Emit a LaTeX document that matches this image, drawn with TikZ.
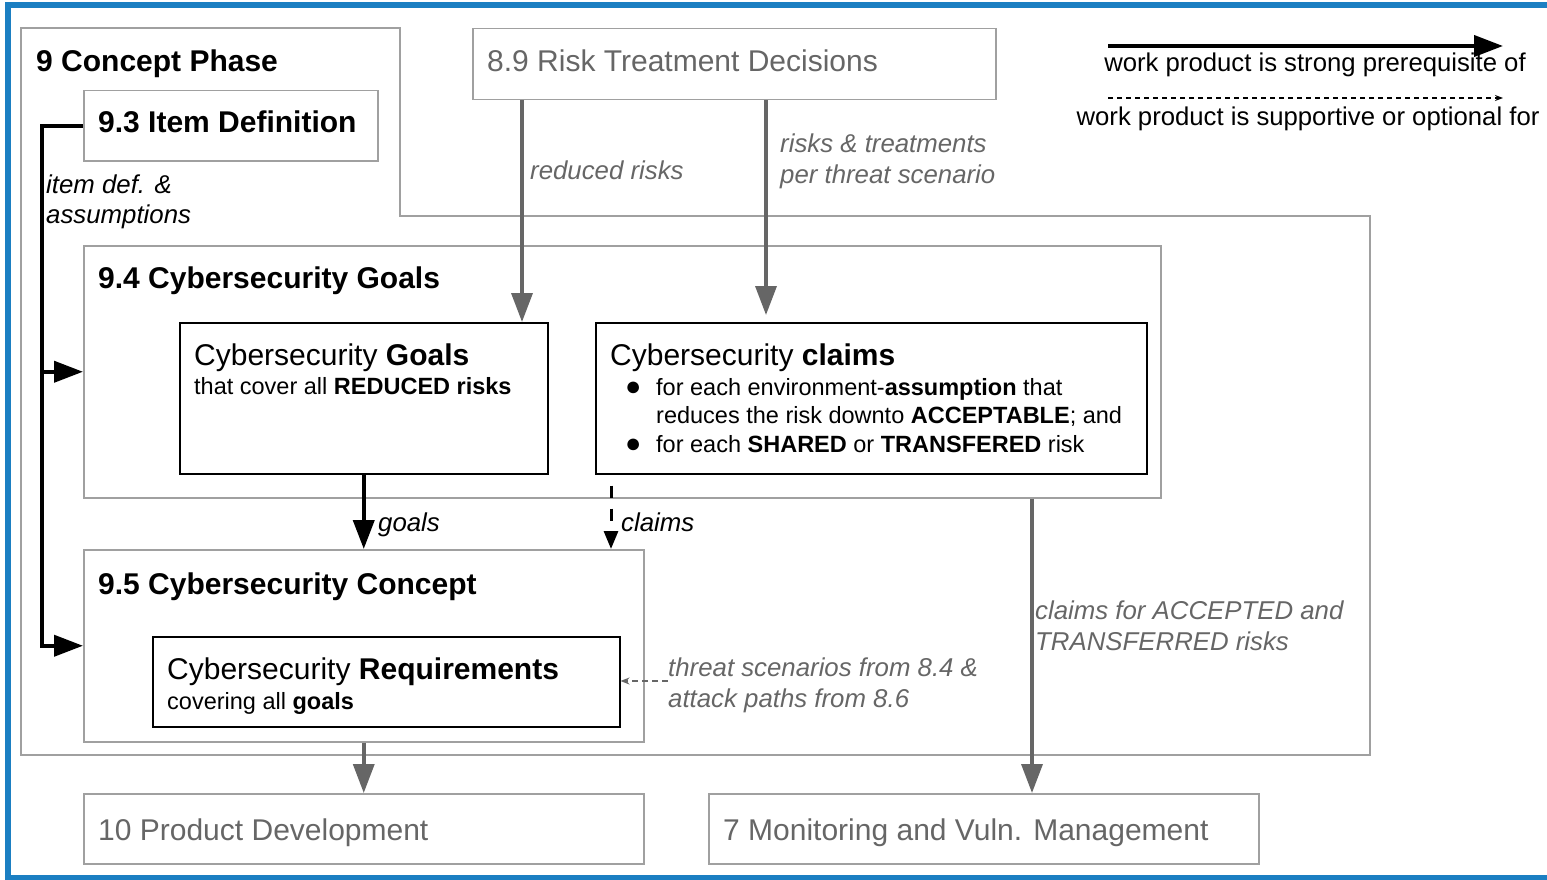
\documentclass[tikz,border=0pt]{standalone}
\usepackage{fontspec}
\setmainfont{Liberation Sans}
\usetikzlibrary{arrows.meta}
\definecolor{frameblue}{HTML}{1B7FC2}
\definecolor{boxgray}{HTML}{A0A0A0}
\definecolor{arrowgray}{HTML}{666666}
\definecolor{textgray}{HTML}{666666}
\newcommand\fsHead{\fontsize{30}{34}\selectfont}
\newcommand\fsBody{\fontsize{23.5}{28.5}\selectfont}
\newcommand\fsLabel{\fontsize{25.8}{31}\selectfont}
\newcommand\fsLegend{\fontsize{25.7}{30}\selectfont}
\newcommand\bigbullet{{\fontsize{27}{28.5}\selectfont ●}}
\begin{document}
\begin{tikzpicture}[x=1pt,y=-1pt,
  gbox/.style={draw=boxgray, line width=1.5pt, anchor=north west, inner sep=0pt},
  kbox/.style={draw=black, line width=1.5pt, anchor=north west, inner sep=0pt},
  txt/.style={anchor=base west, inner sep=0pt},
  bigtip/.style={-{Triangle[length=29pt,width=21pt]}},
  garrow/.style={draw=arrowgray, line width=3.5pt, bigtip, arrowgray},
  karrow/.style={draw=black, line width=4pt, bigtip},
  kdash/.style={draw=black, line width=3pt, dash pattern=on 12pt off 11pt, dash phase=12pt,
                -{Triangle[length=18pt,width=14pt]}},
  gthin/.style={draw=arrowgray, line width=1.5pt, dash pattern=on 6pt off 4pt,
                -{Stealth[length=9pt,width=7pt]}, arrowgray},
  kthin/.style={draw=black, line width=1.3pt, dash pattern=on 5pt off 4pt,
                -{Stealth[length=8pt,width=6pt]}},
  lbl/.style={txt, font=\fsLabel\itshape},
]
\useasboundingbox (0,0) rectangle (1547,880);

% page frame
\draw[frameblue, line width=6pt] (1550,5.5) -- (8,5.5) -- (8,878) -- (1550,878);

% concept phase outline
\draw[boxgray, line width=1.5pt] (21,28) -- (400,28) -- (400,216) -- (1370,216)
  -- (1370,755) -- (21,755) -- cycle;
\node[txt, font=\fsHead\bfseries] (tphase) at (36,72) {9 Concept Phase};

% boxes
\node[gbox, minimum width=294pt, minimum height=70pt] (b93) at (83,90) {};
\node[gbox, minimum width=523pt, minimum height=71pt] (b89) at (472,28) {};
\node[gbox, minimum width=1077pt, minimum height=252pt] (b94) at (83,245) {};
\node[kbox, minimum width=368pt, minimum height=151pt] (bgoal) at (179,322) {};
\node[kbox, minimum width=551pt, minimum height=151pt] (bclaim) at (595,322) {};
\node[gbox, minimum width=560pt, minimum height=192pt] (b95) at (83,549) {};
\node[kbox, minimum width=467pt, minimum height=90pt] (breq) at (152,636) {};
\node[gbox, minimum width=560pt, minimum height=70pt] (b10) at (83,793) {};
\node[gbox, minimum width=550pt, minimum height=70pt] (b7) at (708,793) {};

% box texts
\node[txt, font=\fsHead\bfseries] (t93) at (98,133) {9.3 Item Definition};
\node[txt, font=\fsHead, text=textgray] (t89) at (487,72) {8.9 Risk Treatment Decisions};
\node[txt, font=\fsHead\bfseries] (t94) at (98,288) {9.4 Cybersecurity Goals};
\node[txt, font=\fsHead] (tgoal) at (194,365) {Cybersecurity \textbf{Goals}};
\node[txt, font=\fsBody] (tgoal2) at (194,394) {that cover all \textbf{REDUCED risks}};
\node[txt, font=\fsHead] (tclaim) at (610,365) {Cybersecurity \textbf{claims}};
\node[txt, font=\fsBody] (tclaim2) at (625,395) {%
  \begin{tabular}[t]{@{}p{31pt}@{}l@{}}
  \bigbullet & for each environment-\textbf{assumption} that\\
    & reduces the risk downto \textbf{ACCEPTABLE}; and\\
  \bigbullet & for each \textbf{SHARED} or \textbf{TRANSFERED} risk
  \end{tabular}};
\node[txt, font=\fsHead\bfseries] (t95) at (98,594) {9.5 Cybersecurity Concept};
\node[txt, font=\fsHead] (treq) at (167,679) {Cybersecurity \textbf{Requirements}};
\node[txt, font=\fsBody] (treq2) at (167,709) {covering all \textbf{goals}};
\node[txt, font=\fsHead, text=textgray] (t10) at (98,840) {10 Product Development};
\node[txt, font=\fsHead, text=textgray] (t7) at (723,840) {7 Monitoring and Vuln. Management};

% connectors
\draw[garrow] (522,0 |- b89.south) -- (522,0 |- bgoal.north);
\draw[garrow, shorten >=7pt] (766,0 |- b89.south) -- (766,0 |- bclaim.north);
\draw[karrow] (bgoal.south) -- (bgoal.south |- b95.north);
\draw[kdash] (611,0 |- bclaim.south) -- (611,0 |- b95.north);
\coordinate (tsrc) at (668,681);
\draw[gthin] (tsrc) -- (tsrc -| breq.east);
\draw[garrow] (1032,0 |- b94.south) -- (1032,0 |- b7.north);
\draw[garrow] (b95.south) -- (b10.north);
\draw[line width=4pt] (b93.west) -- (42,0 |- b93.west) -- (42,0 |- b95.west);
\draw[karrow] (40,0 |- b95.west) -- (b95.west);
\draw[karrow] (42,0 |- b94.west) -- (b94.west);

% connector labels
\node[lbl, text=textgray] (lred) at (530,179) {reduced risks};
\node[lbl, text=textgray] (lrt) at (780,153) {\begin{tabular}[t]{@{}l@{}}risks \& treatments\\per threat scenario\end{tabular}};
\node[lbl] (litem) at (46,193) {\begin{tabular}[t]{@{}l@{}}item def. \&\\assumptions\end{tabular}};
\node[lbl] (lgoals) at (378,531) {goals};
\node[lbl] (lclaims) at (621,531) {claims};
\node[lbl, text=textgray] (lthreat) at (668,676) {\begin{tabular}[t]{@{}l@{}}threat scenarios from 8.4 \&\\attack paths from 8.6\end{tabular}};
\node[lbl, text=textgray] (lacc) at (1035,619) {\begin{tabular}[t]{@{}l@{}}claims for ACCEPTED and\\TRANSFERRED risks\end{tabular}};

% legend
\coordinate (lgA) at (1108,46);
\coordinate (lgB) at (1503,46);
\coordinate (lgC) at (1108,98);
\coordinate (lgD) at (1503,98);
\draw[karrow] (lgA) -- (lgB);
\draw[kthin] (lgC) -- (lgD);
\node[anchor=base, inner sep=0pt, font=\fsLegend] (lgt1) at (1315,72) {work product is strong prerequisite of};
\node[anchor=base, inner sep=0pt, font=\fsLegend] (lgt2) at (1308,125) {work product is supportive or optional for};
\end{tikzpicture}
\end{document}
